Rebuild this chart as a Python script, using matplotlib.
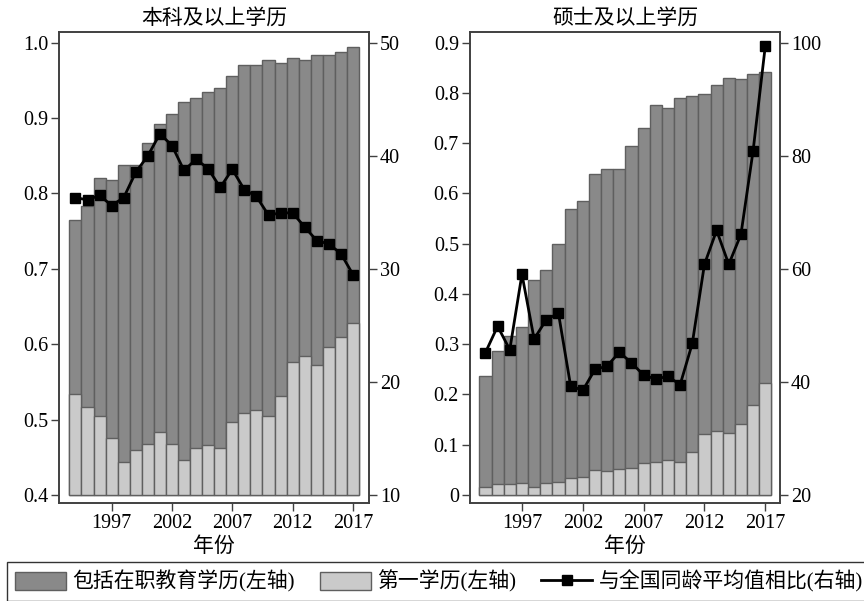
import matplotlib
matplotlib.use("Agg")
import matplotlib.pyplot as plt
from matplotlib.patches import Patch
from matplotlib.lines import Line2D

plt.rcParams['font.family'] = ['Liberation Serif', 'Noto Sans CJK SC', 'DejaVu Sans']

years = list(range(1994, 2018))

# 本科及以上学历
ug_total = [0.765, 0.784, 0.820, 0.818, 0.838, 0.838, 0.867, 0.892, 0.906, 0.922,
            0.927, 0.934, 0.940, 0.956, 0.970, 0.970, 0.977, 0.973, 0.980, 0.977,
            0.984, 0.984, 0.988, 0.994]
ug_first = [0.534, 0.517, 0.505, 0.476, 0.444, 0.460, 0.468, 0.483, 0.468, 0.446,
            0.463, 0.467, 0.463, 0.497, 0.509, 0.513, 0.505, 0.531, 0.576, 0.585,
            0.573, 0.597, 0.609, 0.628]
ug_ratio = [36.3, 36.1, 36.5, 35.6, 36.3, 38.55, 40.0, 41.95, 40.9, 38.7,
            39.7, 38.85, 37.2, 38.8, 37.0, 36.4, 34.75, 34.95, 34.95, 33.7,
            32.5, 32.2, 31.35, 29.5]

# 硕士及以上学历
pg_total = [0.236, 0.286, 0.316, 0.335, 0.428, 0.448, 0.500, 0.570, 0.585, 0.638,
            0.649, 0.649, 0.695, 0.731, 0.776, 0.770, 0.790, 0.794, 0.798, 0.816,
            0.830, 0.828, 0.838, 0.842]
pg_first = [0.016, 0.021, 0.021, 0.024, 0.016, 0.023, 0.026, 0.033, 0.036, 0.050,
            0.048, 0.051, 0.054, 0.063, 0.066, 0.069, 0.066, 0.086, 0.121, 0.128,
            0.123, 0.142, 0.179, 0.222]
pg_ratio = [45.2, 49.85, 45.7, 59.05, 47.6, 51.0, 52.15, 39.3, 38.5, 42.2,
            42.8, 45.25, 43.4, 41.2, 40.5, 41.0, 39.5, 46.8, 60.8, 66.8,
            60.8, 66.1, 80.9, 99.4]

titles = ['本科及以上学历', '硕士及以上学历']
xlabel = '年份'
legend_labels = ['包括在职教育学历(左轴)', '第一学历(左轴)', '与全国同龄平均值相比(右轴)']
xticks = [1997, 2002, 2007, 2012, 2017]

DARK = '#898989'
LIGHT = '#cacaca'
EDGE = '#5f5f5f'
FRAME = '#404040'

fig = plt.figure(figsize=(8.64, 6.01), dpi=100)
W, H = 864, 601

def ax_rect(x0, x1, ytop, ybot):
    return [x0 / W, 1 - ybot / H, (x1 - x0) / W, (ybot - ytop) / H]

configs = [
    dict(rect=ax_rect(59.3, 369, 32.3, 502.7), total=ug_total, first=ug_first,
         ratio=ug_ratio, base=0.4, ylim=(0.3898, 1.0138), yticks=[0.4, 0.5, 0.6, 0.7, 0.8, 0.9, 1.0],
         ylabels=['0.4', '0.5', '0.6', '0.7', '0.8', '0.9', '1.0'],
         y2lim=(9.32, 50.92), y2ticks=[10, 20, 30, 40, 50], xlim=(1992.66, 2018.33)),
    dict(rect=ax_rect(470, 780, 32.3, 502.7), total=pg_total, first=pg_first,
         ratio=pg_ratio, base=0.0, ylim=(-0.0153, 0.9207),
         yticks=[0, 0.1, 0.2, 0.3, 0.4, 0.5, 0.6, 0.7, 0.8, 0.9],
         ylabels=['0', '0.1', '0.2', '0.3', '0.4', '0.5', '0.6', '0.7', '0.8', '0.9'],
         y2lim=(18.64, 101.84), y2ticks=[20, 40, 60, 80, 100], xlim=(1992.73, 2018.21)),
]

TICKFS = 14.5

for i, c in enumerate(configs):
    ax = fig.add_axes(c['rect'])
    base = c['base']
    ax.bar(years, [t - base for t in c['total']], bottom=base, width=1.0,
           color=DARK, edgecolor=EDGE, linewidth=1.0, zorder=2)
    ax.bar(years, [f - base for f in c['first']], bottom=base, width=1.0,
           color=LIGHT, edgecolor=EDGE, linewidth=1.0, zorder=3)
    ax.set_xlim(*c['xlim'])
    ax.set_ylim(*c['ylim'])
    ax.set_yticks(c['yticks'])
    ax.set_yticklabels(c['ylabels'])
    ax.set_xticks(xticks)
    ax.set_xticklabels([str(x) for x in xticks])
    ax.tick_params(axis='both', direction='out', length=6, width=1.0, color=FRAME,
                   labelsize=TICKFS, pad=2)
    for s in ax.spines.values():
        s.set_color(FRAME)
        s.set_linewidth(1.2)
    ax.set_title(titles[i], fontsize=15, pad=6)
    ax.set_xlabel(xlabel, fontsize=15, labelpad=3)

    ax2 = ax.twinx()
    ax2.plot(years, c['ratio'], color='black', linewidth=2.0, marker='s',
             markersize=7.5, markerfacecolor='black', markeredgecolor='black', zorder=5)
    ax2.set_ylim(*c['y2lim'])
    ax2.set_yticks(c['y2ticks'])
    ax2.tick_params(axis='y', direction='out', length=6, width=1.0, color=FRAME,
                    labelsize=TICKFS, pad=2)
    for s in ax2.spines.values():
        s.set_color(FRAME)
        s.set_linewidth(1.2)

handles = [
    Patch(facecolor=DARK, edgecolor=EDGE, linewidth=1.0),
    Patch(facecolor=LIGHT, edgecolor=EDGE, linewidth=1.0),
    Line2D([0], [0], color='black', linewidth=2.0, marker='s', markersize=7.5),
]
leg = fig.legend(handles, legend_labels, loc='upper left',
                 bbox_to_anchor=(7 / W, 1 - 562 / H), bbox_transform=fig.transFigure,
                 ncol=3, fontsize=15, frameon=True, fancybox=False,
                 handlelength=2.45, handleheight=0.95, handletextpad=0.3,
                 columnspacing=1.2, borderpad=0.4, borderaxespad=0)
leg.get_frame().set_edgecolor('black')
leg.get_frame().set_linewidth(1.0)

fig.savefig('out.png', dpi=100)
